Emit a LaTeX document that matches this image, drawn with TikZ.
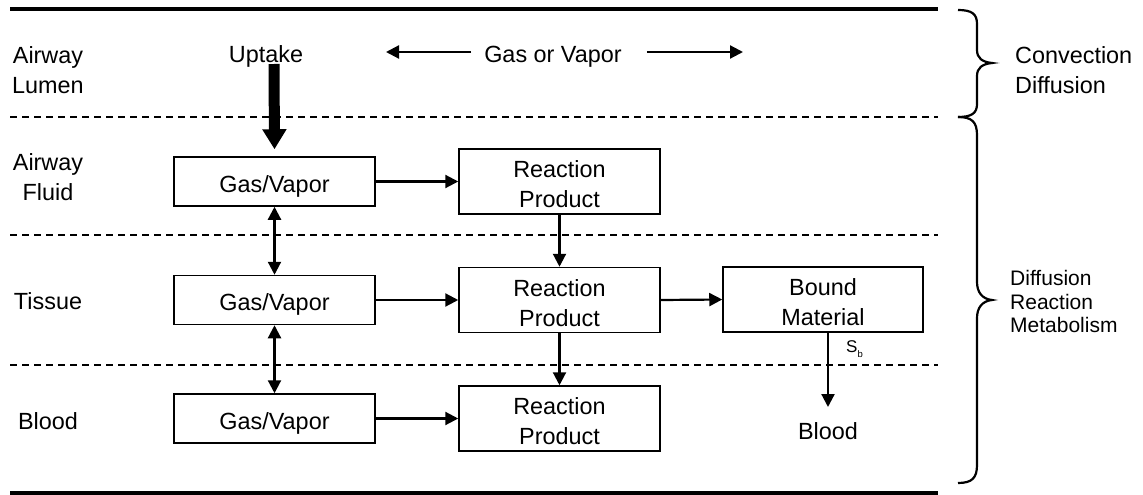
\documentclass[tikz,border=0pt]{standalone}
\usepackage{fontspec}
\setmainfont{Liberation Sans}
\usetikzlibrary{arrows.meta}
\begin{document}
\begin{tikzpicture}[x=1pt,y=-1pt,
 lbl/.style={font=\fontsize{23.4}{30}\selectfont, align=center, inner sep=0pt},
 one/.style={text height=16.7pt, text depth=0pt},
 box/.style={draw, line width=1.5pt, minimum width=201pt, inner sep=0pt, align=center, font=\fontsize{23.4}{30}\selectfont},
 gv/.style={box, minimum height=49pt, text height=21.7pt, text depth=0pt},
 rp/.style={box, minimum height=65pt},
 arr/.style={line width=2.2pt, -{Triangle[width=13pt,length=13pt]}},
 darr/.style={line width=2.2pt, {Triangle[width=13pt,length=13pt]}-{Triangle[width=13pt,length=13pt]}},
 sep/.style={line width=1.4pt, dash pattern=on 7pt off 5pt},
 rule/.style={line width=4pt},
 brc/.style={line width=2.2pt}
]
\useasboundingbox (0,0) rectangle (1143,495);
% rules and separators
\draw[rule] (10,9.5) -- (938,9.5);
\draw[rule] (10,492.5) -- (938,492.5);
\draw[sep] (10,117) -- (938,117);
\draw[sep] (10,235) -- (938,235);
\draw[sep] (10,365) -- (938,365);
% layer labels
\node[lbl] (al) at (48,70) {Airway\\Lumen};
\node[lbl] (af) at (48,177) {Airway\\Fluid};
\node[lbl, one] (ti) at (48,301.5) {Tissue};
\node[lbl, one] (bl) at (48,421) {Blood};
% top row
\node[lbl, one] (up) at (266,54.5) {Uptake};
\node[lbl, one] (gov) at (553,54) {Gas or Vapor};
\coordinate (gl) at (386,52);
\coordinate (gr) at (743,52);
\draw[arr] ([shift={(-13pt,2pt)}]gov.west) -- (gl);
\draw[arr] ([shift={(25pt,2pt)}]gov.east) -- (gr);
% boxes
\node[gv] (g1) at (274.5,181.5) {Gas/Vapor};
\node[gv] (g2) at (274.5,300) {Gas/Vapor};
\node[gv] (g3) at (274.5,418.5) {Gas/Vapor};
\node[rp] (r1) at (559.5,181.5) {\rule{0pt}{22.7pt}Reaction\\Product};
\node[rp] (r2) at (559.5,300) {\rule{0pt}{22.7pt}Reaction\\Product};
\node[rp] (r3) at (559.5,418.5) {\rule{0pt}{22.7pt}Reaction\\Product};
\node[rp, minimum width=200pt] (bm) at (823,299.5) {\rule{0pt}{22.7pt}Bound\\Material};
\node[lbl, one] (bb) at (828,431.5) {Blood};
\coordinate (bt) at (828,407);
\node[inner sep=0pt, anchor=base west, font=\fontsize{17}{17}\selectfont] (sb) at (846,352) {S\raisebox{-5.5pt}{\fontsize{9.5}{10}\selectfont b}};
% uptake arrow
\coordinate (upt) at (274,64);
\draw[line width=11pt, -{Triangle[width=23pt,length=20pt]}] (upt) -- ([yshift=7pt]g1.north);
% connectors
\draw[arr] (g1.east) -- (r1.west);
\draw[arr] (g2.east) -- (r2.west);
\draw[arr] (g3.east) -- (r3.west);
\draw[arr] (r2.east) -- (bm.west);
\draw[arr] (r1.south) -- (r2.north);
\draw[arr] (r2.south) -- (r3.north);
\draw[darr] (g1.south) -- (g2.north);
\draw[darr] (g2.south) -- (g3.north);
\draw[arr] ([xshift=5pt]bm.south) -- (bt);
% braces
\draw[brc] (958,10) .. controls (972,10) and (977,14) .. (977,24) -- (977,50)
  .. controls (977,58) and (982,62) .. (992,63)
  .. controls (982,64) and (977,68) .. (977,76) -- (977,104)
  .. controls (977,113) and (972,117) .. (958,117);
\draw[brc] (958,117) .. controls (972,117) and (977,122) .. (977,135) -- (977,282)
  .. controls (977,292) and (982,299) .. (992,300)
  .. controls (982,301) and (977,308) .. (977,318) -- (977,465)
  .. controls (977,478) and (972,483) .. (958,483);
% right labels
\node[lbl, align=left, anchor=west] (cd) at (1015,70) {Convection\\Diffusion};
\node[inner sep=0pt, align=left, anchor=west, font=\fontsize{21}{23.5}\selectfont] (drm) at (1010,301.5) {Diffusion\\Reaction\\Metabolism};
\end{tikzpicture}
\end{document}
